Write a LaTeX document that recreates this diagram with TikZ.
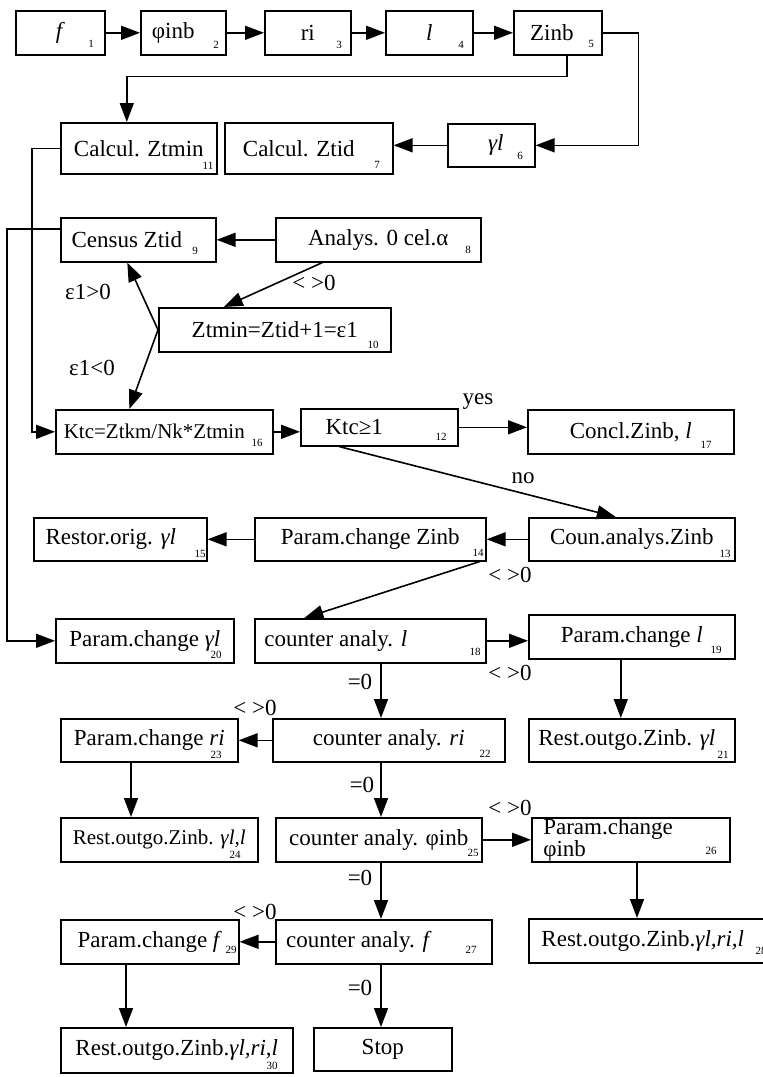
\documentclass[tikz,border=0pt]{standalone}
\usepackage{fontspec}
\setmainfont{Liberation Serif}
\usetikzlibrary{arrows.meta}
\newcommand{\bigf}{\fontsize{23}{26}\selectfont}
\newcommand{\midf}{\fontsize{21}{24}\selectfont}
\newcommand{\numf}{\fontsize{11}{12}\selectfont}
\newcommand{\twof}{\fontsize{23}{18}\selectfont}
\newcommand{\trail}[1]{\hspace*{#1}\mbox{}}
\tikzset{
 box/.style={draw, line width=1.6pt, rectangle, inner sep=0pt, anchor=north west, font=\bigf},
 num/.style={inner sep=0pt, font=\numf},
 lbl/.style={inner sep=0pt, font=\bigf},
 arr/.style={line width=1.6pt, -{Triangle[length=19pt,width=14pt]}},
}
\begin{document}
\begin{tikzpicture}[x=1pt,y=-1pt]
\fill[white] (0,0) rectangle (763,1077);
\useasboundingbox (0,0) rectangle (763,1077);
% row 1
\node[box, minimum width=89pt, minimum height=44pt] (n1) at (15,10) {\textit{f}};
\node[num] (s1) at (91,44) {1};
\node[box, minimum width=85pt, minimum height=44pt] (n2) at (140,10) {φinb\trail{20pt}};
\node[num] (s2) at (216,45) {2};
\node[box, minimum width=86pt, minimum height=44pt] (n3) at (264,10) {ri};
\node[num] (s3) at (339,45) {3};
\node[box, minimum width=87pt, minimum height=44pt] (n4) at (385,10) {\textit{l}};
\node[num] (s4) at (461,45) {4};
\node[box, minimum width=88pt, minimum height=44pt] (n5) at (513,10) {Zinb\trail{12pt}};
\node[num] (s5) at (591,44) {5};
% row 2
\node[box, minimum width=156pt, minimum height=51pt] (n11) at (60,122) {Calcul. Ztmin};
\node[num] (s11) at (208,166) {11};
\node[box, minimum width=168pt, minimum height=51pt] (n7) at (224,122) {Calcul. Ztid\trail{20pt}};
\node[num] (s7) at (377,165) {7};
\node[box, minimum width=87pt, minimum height=43pt] (n6) at (447,123) {\hspace{9pt}\textit{γl}};
\node[num] (s6) at (520,156) {6};
% row 3
\node[box, minimum width=155pt, minimum height=44pt] (n9) at (60,217) {Census Ztid\trail{23pt}};
\node[num] (s9) at (195,251) {9};
\node[box, minimum width=205pt, minimum height=44pt] (n8) at (275,217) {Analys. 0 cel.α};
\node[num] (s8) at (468,250) {8};
\node[box, minimum width=232pt, minimum height=44pt] (n10) at (158,307) {Ztmin=Ztid+1=ε1};
\node[num] (s10) at (373,345) {10};
% row 4
\node[box, minimum width=217pt, minimum height=44pt, font=\midf] (n16) at (55,409) {Ktc=Ztkm/Nk*Ztmin\trail{20pt}};
\node[num] (s16) at (257,443) {16};
\node[box, minimum width=157pt, minimum height=37pt] (n12) at (300,408) {Ktc≥1\trail{50pt}};
\node[num] (s12) at (441,437) {12};
\node[box, minimum width=206pt, minimum height=44pt] (n17) at (527,409) {Concl.Zinb, \textit{l}};
\node[num] (s17) at (706,445) {17};
% row 5
\node[box, minimum width=173pt, minimum height=43pt] (n15) at (33,517) {Restor.orig. \textit{γl}\trail{19pt}};
\node[num] (s15) at (200,554) {15};
\node[box, minimum width=231pt, minimum height=43pt] (n14) at (254,517) {Param.change Zinb};
\node[num] (s14) at (478,553) {14};
\node[box, minimum width=206pt, minimum height=43pt] (n13) at (528,517) {Coun.analys.Zinb};
\node[num] (s13) at (725,554) {13};
% row 6
\node[box, minimum width=178pt, minimum height=44pt] (n20) at (55,618) {Param.change \textit{γl}};
\node[num] (s20) at (216,655) {20};
\node[box, minimum width=231pt, minimum height=44pt] (n18) at (254,618) {counter analy. \textit{l}\trail{69pt}};
\node[num] (s18) at (475,652) {18};
\node[box, minimum width=206pt, minimum height=44pt] (n19) at (528,614) {Param.change \textit{l}};
\node[num] (s19) at (716,650) {19};
% row 7
\node[box, minimum width=177pt, minimum height=43pt] (n23) at (60,718) {Param.change \textit{ri}};
\node[num] (s23) at (216,755) {23};
\node[box, minimum width=232pt, minimum height=43pt] (n22) at (272,718) {counter analy. \textit{ri}};
\node[num] (s22) at (485,754) {22};
\node[box, minimum width=206pt, minimum height=43pt] (n21) at (528,718) {Rest.outgo.Zinb. \textit{γl}\trail{10pt}};
\node[num] (s21) at (723,755) {21};
% row 8
\node[box, minimum width=197pt, minimum height=44pt, font=\midf] (n24) at (60,817) {Rest.outgo.Zinb. \textit{γl,l}};
\node[num] (s24) at (235,855) {24};
\node[box, minimum width=206pt, minimum height=44pt] (n25) at (275,817) {counter analy. φinb};
\node[num] (s25) at (473,853) {25};
\node[box, minimum width=198pt, minimum height=44pt, text width=175pt, align=left, font=\twof] (n26) at (531,817) {Param.change\\φinb};
\node[num] (s26) at (711,851) {26};
% row 9
\node[box, minimum width=178pt, minimum height=44pt] (n29) at (60,919) {Param.change \textit{f}};
\node[num] (s29) at (231,950) {29};
\node[box, minimum width=216pt, minimum height=44pt] (n27) at (275,919) {counter analy. \textit{f}\trail{50pt}};
\node[num] (s27) at (471,950) {27};
\node[box, minimum width=247pt, minimum height=44pt] (n28) at (528,918) {Rest.outgo.Zinb.\textit{γl,ri,l}\trail{19pt}};
\node[num] (s28) at (761,951) {28};
% row 10
\node[box, minimum width=232pt, minimum height=45pt] (n30) at (60,1027) {Rest.outgo.Zinb.\textit{γl,ri,l}};
\node[num] (s30) at (272,1066) {30};
\node[box, minimum width=138pt, minimum height=43pt] (nstop) at (313,1027) {Stop};
% helper coordinates
\coordinate (cx) at (381,0);
\coordinate (cl) at (131,0);
\coordinate (cl2) at (126,0);
\coordinate (cr) at (637,0);
% connectors
\draw[arr] (n1.east) -- (n2.west);
\draw[arr] (n2.east) -- (n3.west);
\draw[arr] (n3.east) -- (n4.west);
\draw[arr] (n4.east) -- (n5.west);
\draw[arr] ([xshift=9pt]n5.south) -- ++(0,21) -| ([xshift=-12pt]n11.north);
\draw[arr] (n5.east) -- ++(36,0) |- (n6.east);
\draw[arr] (n6.west) -- (n6.west -| n7.east);
\draw[arr] (n11.west) -- ++(-28,0) |- (n16.west);
\draw[arr] ([yshift=11pt]n9.west) -- ++(-53,0) |- (n20.west);
\draw[arr] (n8.west) -- (n9.east);
\draw[arr] ([xshift=-56pt]n8.south) -- ([xshift=-51pt]n10.north);
\draw[arr] (n10.west) -- ([xshift=-11pt]n9.south);
\draw[arr] (n10.west) -- ([xshift=-35pt]n16.north);
\draw[arr] (n16.east) -- (n16.east -| n12.west);
\draw[arr] (n12.east) -- (n12.east -| n17.west);
\draw[arr] ([xshift=-40pt]n12.south) -- ([xshift=-16pt]n13.north);
\draw[arr] (n13.west) -- (n14.east);
\draw[arr] (n14.west) -- (n15.east);
\draw[arr] ([xshift=-7pt]n14.south east) -- ([xshift=-66pt]n18.north);
\draw[arr] (n18.east) -- (n18.east -| n19.west);
\draw[arr] (n18.south -| cx) -- (n22.north -| cx);
\draw[arr] ([xshift=-11pt]n19.south) -- ([xshift=-11pt]n21.north);
\draw[arr] (n22.west) -- (n22.west -| n23.east);
\draw[arr] (n23.south -| cl) -- (n24.north -| cl);
\draw[arr] (n22.south -| cx) -- (n25.north -| cx);
\draw[arr] (n25.east) -- (n25.east -| n26.west);
\draw[arr] (n26.south -| cr) -- (n28.north -| cr);
\draw[arr] (n25.south -| cx) -- (n27.north -| cx);
\draw[arr] (n27.west) -- (n27.west -| n29.east);
\draw[arr] (n29.south -| cl2) -- (n30.north -| cl2);
\draw[arr] (n27.south -| cx) -- (nstop.north -| cx);
% labels
\node[lbl] (l1) at (314,283) {<\ >0};
\node[lbl] (l2) at (88,292) {ε1>0};
\node[lbl] (l3) at (92,368) {ε1<0};
\node[lbl] (l4) at (478,402) {yes};
\node[lbl] (l5) at (523,478) {no};
\node[lbl] (l6) at (510,575) {<\ >0};
\node[lbl] (l7) at (510,673) {<\ >0};
\node[lbl] (l8) at (360,682) {=0};
\node[lbl] (l9) at (255,708) {<\ >0};
\node[lbl] (l10) at (362,785) {=0};
\node[lbl] (l11) at (510,808) {<\ >0};
\node[lbl] (l12) at (360,878) {=0};
\node[lbl] (l13) at (255,912) {<\ >0};
\node[lbl] (l14) at (360,988) {=0};
\end{tikzpicture}
\end{document}
